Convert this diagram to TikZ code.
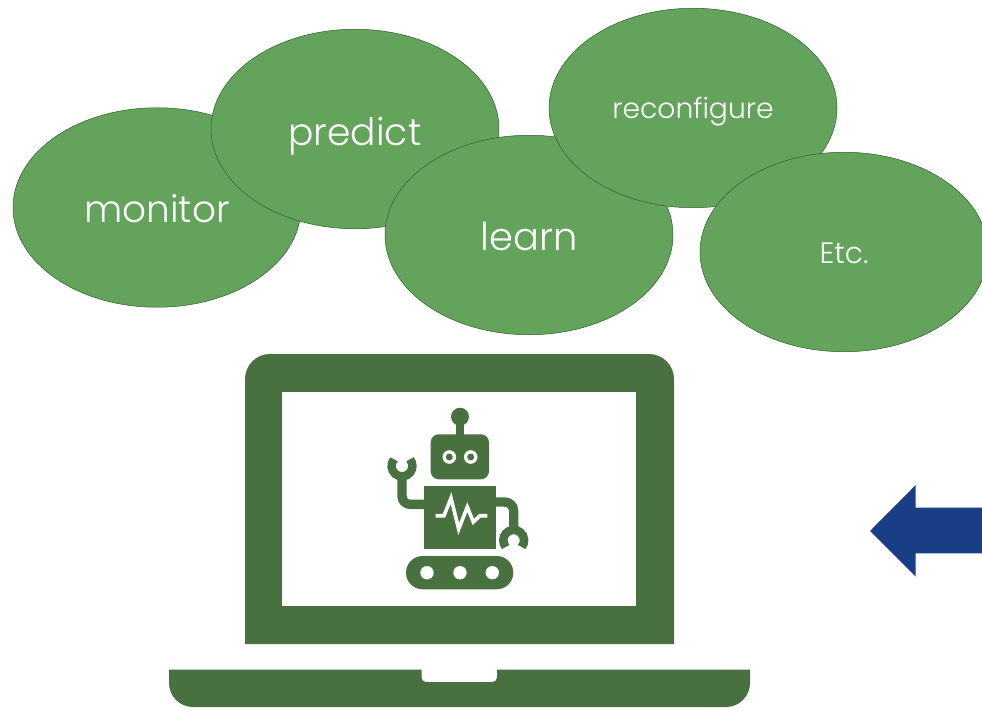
\documentclass[tikz,border=0pt]{standalone}
\usepackage{fontspec}
\setmainfont{Poppins}[UprightFont=* Light]
\usetikzlibrary{shapes.geometric}
\definecolor{leaf}{HTML}{63A35C}
\definecolor{leafedge}{HTML}{2F5F2B}
\definecolor{laptopgreen}{HTML}{48713F}
\definecolor{arrowblue}{HTML}{1A3E85}
\tikzset{
  bubble/.style={ellipse,draw=leafedge,line width=0.5pt,fill=leaf,
    minimum width=288pt,minimum height=199.5pt,inner sep=0pt},
  bubbletext/.style={text=white,inner sep=0pt},
  solidgreen/.style={fill=laptopgreen,draw=none},
  limb/.style={draw=laptopgreen,line width=9.4pt,line join=round},
  claw/.style={draw=laptopgreen,line width=8.5pt},
  hole/.style={circle,fill=white,draw=none,inner sep=0pt,minimum size=13.4pt}
}
\begin{document}
\begin{tikzpicture}[x=1pt,y=-1pt]
\path[use as bounding box] (0,0) rectangle (982,711);
\clip (0,0) rectangle (982,711);
\fill[white] (0,0) rectangle (982,711);
% bubbles
\node[bubble] (monitor) at (157,207.5) {};
\node[bubbletext,font=\fontsize{37.4}{40}\selectfont] (monitortext) at ([yshift=-1.5pt]monitor.center) {monitor};
\node[bubble] (predict) at (355,129) {};
\node[bubbletext,font=\fontsize{37.6}{40}\selectfont] (predicttext) at ([yshift=-7pt]predict.center) {predict};
\node[bubble] (learn) at (529,235) {};
\node[bubbletext,font=\fontsize{38.4}{40}\selectfont] (learntext) at ([yshift=-1.5pt]learn.center) {learn};
\node[bubble] (reconf) at (693,108) {};
\node[bubbletext,font=\fontsize{28.2}{30}\selectfont] (reconftext) at ([yshift=-4pt]reconf.center) {reconfigure};
\node[bubble] (etc) at (844,252) {};
\node[bubbletext,font=\fontsize{29.5}{31}\selectfont] (etctext) at ([yshift=-1pt]etc.center) {Etc.};
% arrow
\fill[arrowblue] (870,531) -- (915.7,485) -- (915.7,507.7) -- (982,507.7) -- (982,553.3) -- (915.7,553.3) -- (915.7,576.7) -- cycle;
% laptop lid
\fill[laptopgreen] (245,644) -- (245,379) arc[start angle=180,end angle=90,radius=25pt] -- (649,354) arc[start angle=90,end angle=0,radius=25pt] -- (674,644) -- cycle;
\fill[white] (282,392) rectangle (636,606);
% laptop base
\fill[laptopgreen] (169,669.5) -- (421.5,669.5) -- (421.5,677.5) arc[start angle=180,end angle=270,radius=4.5pt] -- (492.5,682) arc[start angle=270,end angle=360,radius=4.5pt] -- (497,669.5) -- (750,669.5) -- (750,683) arc[start angle=0,end angle=-90,radius=24pt] -- (193,707) arc[start angle=270,end angle=180,radius=24pt] -- cycle;
% robot antenna and head
\fill[laptopgreen] (460,416.7) circle[radius=9pt];
\fill[laptopgreen] (456,420) rectangle (464,436);
\fill[laptopgreen,rounded corners=8pt] (430.7,434.3) rectangle (489,479.3);
\foreach \ex in {449.3,470.7}{
  \fill[white] (\ex,457) circle[radius=6.8pt];
  \fill[laptopgreen] (\ex,457) circle[radius=3.5pt];
}
% arms
\draw[limb,rounded corners=8pt] (426,504.3) -- (402,504.3) -- (402,472);
\draw[limb,rounded corners=9pt] (494,502) -- (513.7,502) -- (513.7,530);
% grippers
\coordinate (lc) at (402,466);
\coordinate (rc) at (513.7,540.3);
\draw[claw] ([shift={(140:10.4pt)}]lc) arc[start angle=140,end angle=400,radius=10.4pt];
\draw[claw] ([shift={(-40:10.4pt)}]rc) arc[start angle=-40,end angle=220,radius=10.4pt];
% body
\fill[laptopgreen] (424,486) rectangle (495.7,549.3);
\draw[white,line width=3.6pt,line join=miter,miter limit=6] (435.7,515.7) -- (444,515.7) -- (451,498) -- (458.7,529) -- (467.3,507) -- (473.3,522) -- (480,515.7) -- (487.3,515.7);
% track
\fill[laptopgreen,rounded corners=16.6pt] (406,556) rectangle (513.3,589.3);
\node[hole] (h1) at (427,572.7) {};
\node[hole] (h2) at (460,572.7) {};
\node[hole] (h3) at (492.3,572.7) {};
\end{tikzpicture}
\end{document}
